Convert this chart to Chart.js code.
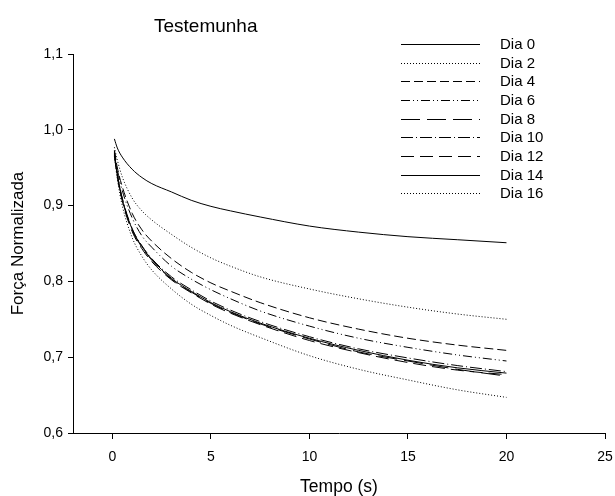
<!DOCTYPE html>
<html>
<head>
<meta charset="utf-8">
<script src="https://cdn.jsdelivr.net/npm/chart.js@4/dist/chart.umd.min.js"></script>
<style>
html,body{margin:0;padding:0;background:#fff;}
#wrap{width:615px;height:496px;}
</style>
</head>
<body>
<div id="wrap"><canvas id="c" width="615" height="496"></canvas></div>
<script>
const times = [0.1, 0.25, 0.5, 1, 1.5, 2, 3, 4, 5, 6, 7.5, 10, 12.5, 15, 17.5, 20];
const seriesLabels = ['Dia 0','Dia 2','Dia 4','Dia 6','Dia 8','Dia 10','Dia 12','Dia 14','Dia 16'];
const dia0  = [0.988,0.976,0.964,0.948,0.937,0.929,0.918,0.907,0.899,0.893,0.885,0.873,0.865,0.859,0.855,0.851];
const dia2  = [0.977,0.960,0.938,0.910,0.893,0.881,0.862,0.845,0.831,0.820,0.806,0.790,0.777,0.766,0.757,0.750];
const dia4  = [0.973,0.950,0.925,0.890,0.868,0.853,0.830,0.812,0.798,0.787,0.772,0.752,0.737,0.725,0.716,0.709];
const dia6  = [0.972,0.948,0.920,0.884,0.860,0.845,0.820,0.803,0.789,0.777,0.761,0.741,0.725,0.713,0.703,0.695];
const dia8  = [0.968,0.940,0.908,0.868,0.845,0.828,0.803,0.786,0.771,0.759,0.744,0.724,0.707,0.695,0.684,0.675];
const dia10 = [0.970,0.942,0.910,0.870,0.847,0.830,0.806,0.789,0.774,0.762,0.747,0.727,0.711,0.699,0.689,0.681];
const dia12 = [0.966,0.938,0.906,0.866,0.843,0.826,0.802,0.785,0.770,0.758,0.743,0.722,0.706,0.693,0.683,0.677];
const dia14 = [0.969,0.941,0.909,0.869,0.846,0.829,0.804,0.787,0.772,0.760,0.745,0.725,0.709,0.696,0.686,0.679];
const dia16 = [0.965,0.935,0.900,0.858,0.833,0.815,0.790,0.770,0.755,0.742,0.726,0.702,0.684,0.670,0.657,0.647];
const xTicks = [0, 5, 10, 15, 20, 25];
const yTicks = [0.6, 0.7, 0.8, 0.9, 1.0, 1.1];
const chartTitle = 'Testemunha';
const xTitle = 'Tempo (s)';
const yTitle = 'Força Normalizada';

const allSeries = [dia0, dia2, dia4, dia6, dia8, dia10, dia12, dia14, dia16];
const dashes = [[], [1,2], [9,4], [9,3,1,3,1,3], [19,7], [12,3,1,3], [13,6], [], [1,2]];
const FONT = "'Liberation Sans', Arial, sans-serif";

const datasets = allSeries.map((s, i) => ({
  label: seriesLabels[i],
  data: s.map((v, j) => ({x: times[j], y: v})),
  borderColor: '#000',
  backgroundColor: 'transparent',
  borderWidth: 1,
  borderDash: dashes[i],
  pointRadius: 0,
  fill: false,
  cubicInterpolationMode: 'monotone'
}));

const decor = {
  id: 'decor',
  afterDraw(chart) {
    const ctx = chart.ctx;
    ctx.save();
    ctx.fillStyle = '#000';
    ctx.font = "19px " + FONT;
    ctx.textAlign = 'left';
    ctx.textBaseline = 'middle';
    ctx.fillText(chartTitle, 154, 27);
    ctx.font = "15px " + FONT;
    chart.data.datasets.forEach((ds, i) => {
      const y = Math.round(44 + i * 18.67) + 0.5;
      ctx.beginPath();
      ctx.setLineDash(ds.borderDash || []);
      ctx.strokeStyle = ds.borderColor;
      ctx.lineWidth = 1;
      ctx.moveTo(401, y);
      ctx.lineTo(480, y);
      ctx.stroke();
      ctx.setLineDash([]);
      ctx.fillText(ds.label, 500, y);
    });
    ctx.restore();
  }
};

new Chart(document.getElementById('c'), {
  type: 'line',
  data: { datasets },
  plugins: [decor],
  options: {
    responsive: false,
    animation: false,
    devicePixelRatio: 1,
    layout: { padding: { top: 54, right: 10, bottom: 0, left: 0 } },
    plugins: { legend: { display: false }, title: { display: false }, tooltip: { enabled: false } },
    scales: {
      x: {
        type: 'linear',
        min: -2,
        max: 25,
        afterBuildTicks: (s) => { s.ticks = xTicks.map(v => ({value: v})); },
        afterFit: (s) => { s.height = 63; s.paddingRight = 0; s.paddingLeft = 0; },
        grid: { display: true, drawOnChartArea: false, drawTicks: true, tickLength: 6, color: '#000' },
        border: { display: true, color: '#000', width: 1 },
        ticks: { color: '#000', padding: 10, font: { family: FONT, size: 14 }, maxRotation: 0 },
        title: { display: true, text: xTitle, color: '#000', padding: 0, font: { family: FONT, size: 17.5, lineHeight: 1 } }
      },
      y: {
        type: 'linear',
        min: 0.6,
        max: 1.1,
        afterBuildTicks: (s) => { s.ticks = yTicks.map(v => ({value: v})); },
        afterFit: (s) => { s.width = 73; },
        grid: { display: true, drawOnChartArea: false, drawTicks: true, tickLength: 5, color: '#000' },
        border: { display: true, color: '#000', width: 1 },
        ticks: { color: '#000', padding: 5, font: { family: FONT, size: 14 },
          callback: (v) => Number(v).toFixed(1).replace('.', ',') },
        title: { display: true, text: yTitle, color: '#000', padding: { top: 8, bottom: 0 }, font: { family: FONT, size: 17, lineHeight: 1.2 } }
      }
    }
  }
});
</script>
</body>
</html>
